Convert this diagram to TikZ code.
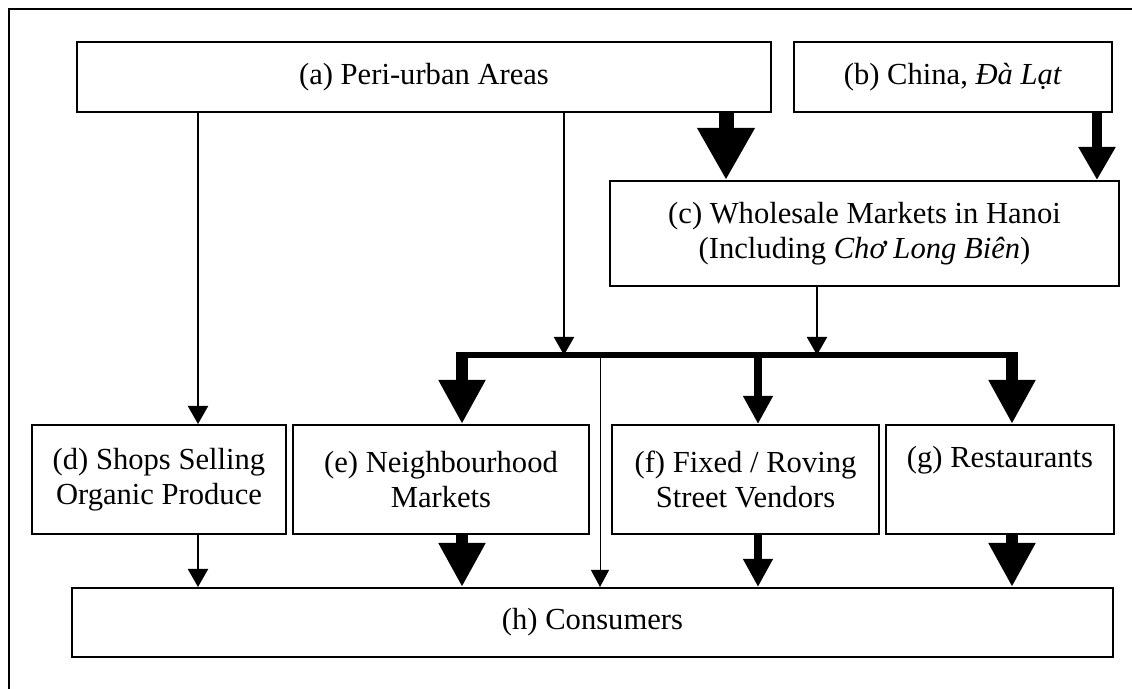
\documentclass[tikz,border=0pt]{standalone}
\usepackage{fontspec}
\setmainfont{Liberation Serif}
\usetikzlibrary{arrows.meta}

\begin{document}
\begin{tikzpicture}[x=0.5pt,y=-0.5pt]

	\tikzset{box/.style = {shape=rectangle,draw,line width=1pt,inner sep=0pt,align=center,font=\fontsize{15.3}{17.5}\selectfont}}
	\tikzset{edge/.style = {line width=1pt,-{Triangle[width=10pt,length=9pt]}}}
	\tikzset{hair/.style = {line width=0.5pt,-{Triangle[width=9pt,length=8.5pt]}}}
	\tikzset{midflow/.style = {line width=4pt,-{Triangle[width=14pt,length=14pt]}}}
	\tikzset{chinaflow/.style = {line width=5pt,-{Triangle[width=17.5pt,length=16.5pt]}}}
	\tikzset{bigflow/.style = {line width=6pt,-{Triangle[width=22pt,length=22pt]}}}
	\tikzset{hugeflow/.style = {line width=7.5pt,-{Triangle[width=27pt,length=26pt]}}}
	\tikzset{bus/.style = {line width=3pt}}

	\useasboundingbox (0,0) rectangle (1132,689);
	\clip (0,0) rectangle (1132,689);
	\draw[line width=1pt] (9,700) -- (9,9) -- (1140,9);

	% sources
	\node[box,minimum width=347pt,minimum height=35pt] (a) at (424,77) {(a) Peri-urban Areas};
	\node[box,minimum width=159pt,minimum height=35pt] (b) at (953,77) {(b) China, \textit{Đà Lạt}};
	\node[box,minimum width=254.5pt,minimum height=52.5pt] (c) at (864.5,233.5) {(c) Wholesale Markets in Hanoi\\(Including \textit{Chơ Long Biên})};

	% retailers
	\node[box,minimum width=127pt,minimum height=54.5pt] (d) at (159,479.5) {(d) Shops Selling\\Organic Produce};
	\node[box,minimum width=148pt,minimum height=54.5pt] (e) at (441,479.5) {(e) Neighbourhood\\Markets};
	\node[box,minimum width=133.5pt,minimum height=54.5pt] (f) at (745.5,479.5) {(f) Fixed / Roving\\Street Vendors};
	\node[box,minimum width=114pt,minimum height=54.5pt] (g) at (1000,479.5) {(g) Restaurants\\\strut};

	\node[box,minimum width=520.5pt,minimum height=34.5pt] (h) at (592.5,622.5) {(h) Consumers};

	% columns and distribution bus
	\coordinate (cd) at (198,0);
	\coordinate (cac) at (726,0);
	\coordinate (cbc) at (1097,0);
	\coordinate (be) at (462,355);
	\coordinate (ba) at (564,355);
	\coordinate (bh) at (600,355);
	\coordinate (bf) at (758,355);
	\coordinate (bc) at (817,355);
	\coordinate (bg) at (1012,355);

	\draw[edge] (a.south -| cd) to (d.north -| cd);
	\draw[hugeflow] (a.south -| cac) to (c.north -| cac);
	\draw[chinaflow] (b.south -| cbc) to (c.north -| cbc);
	\draw[edge] (a.south -| ba) to (ba);
	\draw[edge] (c.south -| bc) to (bc);

	\draw[bus] ([xshift=-3pt]be) to ([xshift=3pt]bg);
	\draw[bigflow] (be) to (e.north -| be);
	\draw[midflow] (bf) to (f.north -| bf);
	\draw[bigflow] (bg) to (g.north -| bg);
	\draw[hair] (bh) to (h.north -| bh);

	\draw[edge] (d.south -| cd) to (h.north -| cd);
	\draw[bigflow] (e.south -| be) to (h.north -| be);
	\draw[midflow] (f.south -| bf) to (h.north -| bf);
	\draw[bigflow] (g.south -| bg) to (h.north -| bg);
\end{tikzpicture}
\end{document}
